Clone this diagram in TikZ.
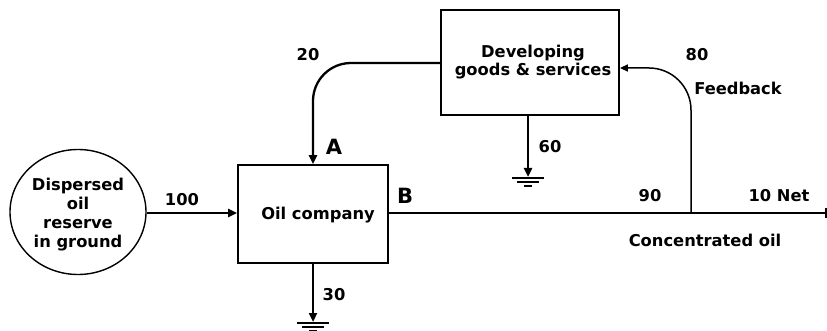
\documentclass[tikz,border=0pt]{standalone}
\usepackage{fontspec}
\setmainfont{DejaVu Sans}
\usetikzlibrary{arrows.meta,shapes.geometric}
\begin{document}
\begin{tikzpicture}[x=1pt,y=-1pt,
  lbl/.style={font=\bfseries\fontsize{16.3}{20}\selectfont,inner sep=0pt},
  biglbl/.style={font=\bfseries\fontsize{21}{24}\selectfont,inner sep=0pt},
  boxstyle/.style={draw,line width=1.8pt,minimum width=150pt,minimum height=98pt,inner sep=0pt},
  flow/.style={line width=2.3pt,-{Triangle[length=9pt,width=8pt]}},
  thinflow/.style={line width=1.5pt,-{Triangle[length=8pt,width=7pt]}},
  gnd/.style={line width=2pt}]
\useasboundingbox (0,0) rectangle (827,331);
% nodes
\node[draw,ellipse,line width=1.4pt,minimum width=136pt,minimum height=125pt,inner sep=0pt] (res) at (78,212) {};
\node[lbl,align=center] (restext) at (78,215) {Dispersed\\[-1pt]oil\\[-1pt]reserve\\[-1pt]in ground};
\node[boxstyle] (oil) at (313,214) {};
\node[lbl] (oiltext) at (318,215) {Oil company};
\node[boxstyle,minimum width=178pt,minimum height=105pt] (dev) at (530,62.5) {};
\node[lbl,align=center] (devtext) at (533,62) {Developing\\[-2pt]goods \& services};
% coordinates
\coordinate (end) at (827,213);
\coordinate (split) at (691,213);
\coordinate (g1) at (313,322);
\coordinate (g2) at (528,177);
% flows
\draw[flow] (res.east |- 0,213) -- (oil.west |- 0,213);
\draw[line width=2.3pt] (oil.east |- 0,213) -- (end);
\draw[line width=1.2pt] (826,208) -- (826,218);
\draw[flow] (oil.south) -- (g1);
\draw[flow] (dev.south -| g2) -- (g2);
\draw[flow,rounded corners=38pt] (dev.west |- 0,63) -- (313,63) -- (oil.north);
\draw[thinflow,rounded corners=42pt] (split) -- (691,68) -- (dev.east |- 0,68);
% grounds
\draw[gnd] (297,323) -- (329,323) (302,327) -- (324,327) (309,331) -- (317,331);
\draw[gnd] (512,178) -- (544,178) (517,182) -- (539,182) (524,186) -- (532,186);
% labels
\node[lbl] (l100) at (182,200) {100};
\node[lbl] (l30) at (334,295) {30};
\node[lbl] (l20) at (308,55) {20};
\node[lbl] (l60) at (550,147) {60};
\node[lbl] (l80) at (697,55) {80};
\node[lbl] (lfb) at (738,88) {Feedback};
\node[lbl] (l90) at (650,196) {90};
\node[lbl] (l10) at (779,196) {10 Net};
\node[lbl] (lco) at (705,240) {Concentrated oil};
\node[biglbl] (lA) at (334,147) {A};
\node[biglbl] (lB) at (405,196) {B};
\end{tikzpicture}
\end{document}
